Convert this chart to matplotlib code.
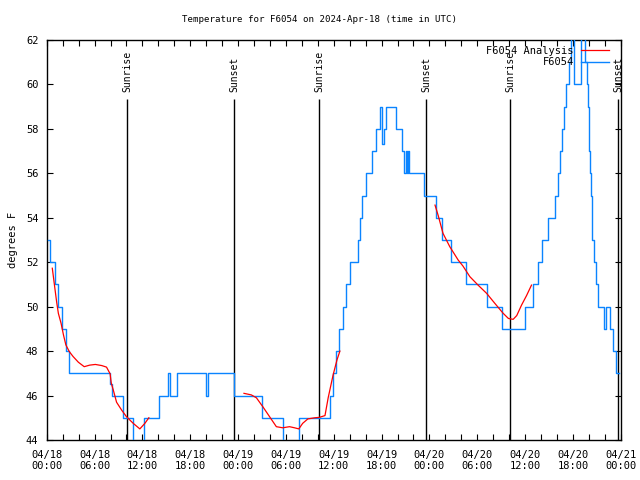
import matplotlib
matplotlib.use("Agg")
import matplotlib.pyplot as plt
import matplotlib.dates as mdates
import numpy as np
import pandas as pd

# ---- data (hours since 2024-04-18 00:00 UTC) ----
obs_hours = [0.2, 0.35, 1.0, 1.45, 1.9, 2.45, 2.85, 7.9, 8.2, 9.55, 10.85, 12.2, 14.1, 15.2, 15.45,
             16.3, 20.0, 20.2, 23.55, 27.0, 29.65, 31.6, 35.55, 35.9, 36.3, 36.7, 37.1, 37.5,
             38.0, 39.0, 39.3, 39.6, 40.1, 40.8, 41.25, 41.75, 42.0, 42.3, 42.6, 43.85, 44.6,
             44.85, 45.0, 45.15, 45.25, 45.4, 47.35, 48.85, 49.6, 50.7, 52.6, 55.2, 57.1, 60.0,
             61.0, 61.6, 62.1, 62.85, 63.8, 64.1, 64.35, 64.6, 64.85, 65.1, 65.45, 65.75, 66.15,
             66.95, 67.55, 67.7, 67.85, 67.95, 68.05, 68.15, 68.25, 68.35, 68.45, 68.6, 68.85,
             69.15, 69.9, 70.1, 70.65, 71.0, 71.45, 71.8]
obs_temps = [53, 52, 51, 50, 49, 48, 47, 46.5, 46, 45, 43, 45, 46, 47, 46,
             47, 46, 47, 46, 45, 43, 45, 46, 47, 48, 49, 50, 51,
             52, 53, 54, 55, 56, 57, 58, 59, 57.3, 58, 59, 58, 57,
             56, 57, 56, 57, 56, 55, 54, 53, 52, 51, 50, 49, 50,
             51, 52, 53, 54, 55, 56, 57, 58, 59, 60, 61, 63, 60,
             63, 61, 60, 59, 58, 57, 56, 55, 54, 53, 52, 51,
             50, 49, 50, 49, 48, 47, 47]

ana1_hours = [0.7, 1.05, 1.25, 1.46, 1.8, 2.1, 2.4, 2.83, 3.3, 3.97, 4.7, 5.4, 6.1, 6.9, 7.5, 7.95,
              8.1, 8.35, 8.76, 9.39, 10.0, 10.85, 11.68, 12.31, 12.81]
ana1_temps = [51.73, 50.75, 50.2, 49.7, 49.25, 48.73, 48.28, 47.98, 47.76, 47.5, 47.3, 47.37, 47.4,
              47.35, 47.28, 46.98, 46.55, 46.25, 45.7, 45.35, 45.05, 44.75, 44.5, 44.75, 45.0]
ana2_hours = [24.74, 25.66, 26.3, 27.1, 27.95, 28.8, 29.6, 30.45, 31.08, 31.62, 32.1, 32.75, 33.6,
              34.2, 34.9, 35.3, 35.9, 36.4, 36.77]
ana2_temps = [46.1, 46.03, 45.9, 45.5, 45.05, 44.6, 44.55, 44.6, 44.55, 44.5, 44.75, 44.95, 45.0,
              45.02, 45.1, 45.9, 46.9, 47.6, 48.0]
ana3_hours = [48.7, 49.1, 49.7, 50.55, 51.6, 52.2, 53.07, 54.1, 55.17, 56.2, 57.25, 57.9, 58.5,
              58.95, 59.55, 60.18, 60.8]
ana3_temps = [54.57, 54.1, 53.3, 52.7, 52.1, 51.83, 51.35, 50.97, 50.6, 50.15, 49.7, 49.47, 49.43,
              49.6, 50.07, 50.5, 50.97]

sunrise_hours = [10.1, 34.2, 58.1]
sunset_hours = [23.5, 47.6, 71.7]

base = pd.Timestamp("2024-04-18 00:00")
def to_t(h):
    return base + pd.to_timedelta(np.asarray(h, dtype=float), unit="h")

fig = plt.figure(figsize=(6.4, 4.8), dpi=100)
ax = fig.add_axes([0.073, 0.0833, 0.897, 0.8334])

blue = "#0a84ff"
ax.plot(to_t(obs_hours), obs_temps, drawstyle="steps-post", color=blue, lw=1.0, label="F6054", zorder=3)
first = True
for hh, tt in [(ana1_hours, ana1_temps), (ana2_hours, ana2_temps), (ana3_hours, ana3_temps)]:
    ax.plot(to_t(hh), tt, color="#ff0000", lw=0.9, zorder=4,
            label="F6054 Analysis" if first else None)
    first = False

mono = "DejaVu Sans Mono"
for hs, lab in [(sunrise_hours, "Sunrise"), (sunset_hours, "Sunset")]:
    for t in to_t(hs):
        ax.vlines(t, 44, 59.33, color="black", lw=1.0, zorder=2)
        ax.text(t, 59.65, lab, rotation=90, ha="center", va="bottom",
                fontsize=7, family=mono, zorder=5)

ax.set_xlim(to_t(0), to_t(72))
ax.set_ylim(44, 62)
ax.set_yticks(np.arange(44, 62.1, 2))
ax.xaxis.set_major_locator(mdates.HourLocator(byhour=[0, 6, 12, 18]))
ax.xaxis.set_minor_locator(mdates.HourLocator(byhour=range(0, 24, 2)))
ax.xaxis.set_major_formatter(mdates.DateFormatter("%m/%d\n%H:%M"))
ax.tick_params(which="both", direction="in", top=True, right=True, length=4.5, width=0.8)
for lbl in ax.get_xticklabels() + ax.get_yticklabels():
    lbl.set_family(mono)
    lbl.set_fontsize(7.5)
ax.tick_params(axis="x", which="major", pad=7)
ax.tick_params(axis="y", which="major", pad=6)
for s in ax.spines.values():
    s.set_linewidth(1.0)

ax.set_ylabel("degrees F", family=mono, fontsize=7.5, labelpad=6)
fig.text(0.5, 1 - 20 / 480, "Temperature for F6054 on 2024-Apr-18 (time in UTC)",
         family=mono, fontsize=6.6, ha="center", va="center")

h, l = ax.get_legend_handles_labels()
order = [l.index("F6054 Analysis"), l.index("F6054")]
leg = ax.legend([h[i] for i in order], [l[i] for i in order], loc="upper right",
                bbox_to_anchor=(0.99, 1.0),
                frameon=False, markerfirst=False, handlelength=2.7, handletextpad=0.7,
                prop={"family": mono, "size": 7.5}, borderaxespad=0.15, labelspacing=0.15)
leg.set_zorder(6)

fig.savefig("out.png", dpi=100)
